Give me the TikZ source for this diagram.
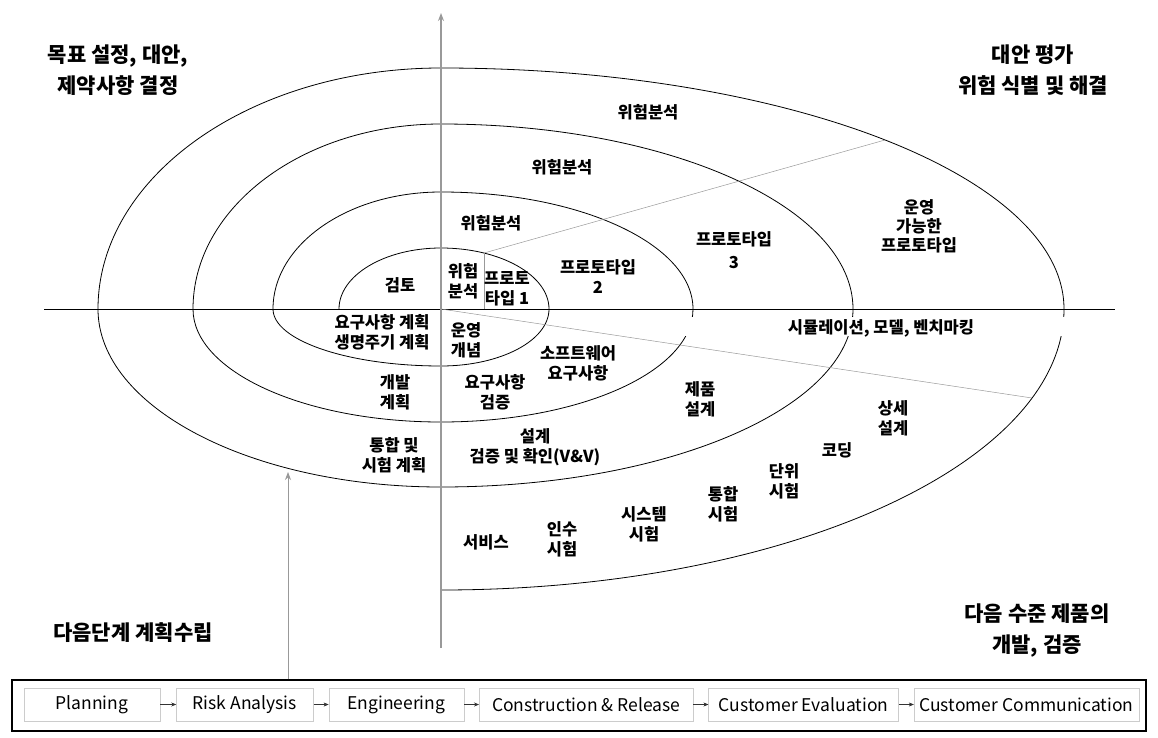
\documentclass[tikz,border=0pt]{standalone}
\usepackage{fontspec}
\setmainfont{Noto Sans CJK KR}
\usetikzlibrary{arrows.meta, positioning}

\begin{document}
\begin{tikzpicture}[
                x=1pt, y=-1pt,
                node distance=15pt,
                every node/.style={align=center, inner sep=1pt, font=\fontsize{16.5}{20}\selectfont\bfseries},
                title/.style={font=\fontsize{21}{31}\selectfont\bfseries},
                stage/.style={draw=gray!40, rectangle, minimum height=33pt, inner sep=0pt, font=\fontsize{17.5}{18}\selectfont},
                flow/.style={-{Stealth[length=5pt, width=4pt]}, black!80, thin},
                axis/.style={-{Stealth[length=8pt, width=6pt]}, gray!80, line width=1.2pt},
                spiral/.style={black, line width=0.8pt},
                guide/.style={gray!80, line width=0.5pt}]
            \useasboundingbox (0,0) rectangle (1158,738);

            % Axes
            \coordinate (o) at (441,309);
            \coordinate (ytop) at (441,13);
            \coordinate (ybot) at (441,648);
            \coordinate (xl) at (44,309);
            \coordinate (xr) at (1115,309);
            \draw[black, line width=0.8pt] (xl) -- (xr);

            % Spirale (quarts d'ellipse autour de o)
            \draw[spiral] (339,309)
                arc[start angle=180, end angle=90, x radius=102pt, y radius=61pt]
                arc[start angle=90, end angle=0, x radius=108pt, y radius=61pt]
                arc[start angle=0, end angle=-90, x radius=108pt, y radius=57pt]
                arc[start angle=-90, end angle=-180, x radius=168pt, y radius=57pt]
                arc[start angle=180, end angle=90, x radius=168pt, y radius=117pt]
                arc[start angle=90, end angle=0, x radius=252pt, y radius=117pt]
                arc[start angle=0, end angle=-90, x radius=252pt, y radius=113pt]
                arc[start angle=-90, end angle=-180, x radius=248pt, y radius=113pt]
                arc[start angle=180, end angle=90, x radius=248pt, y radius=185pt]
                arc[start angle=90, end angle=0, x radius=412pt, y radius=185pt]
                arc[start angle=0, end angle=-90, x radius=412pt, y radius=178pt]
                arc[start angle=-90, end angle=-180, x radius=343pt, y radius=178pt]
                arc[start angle=180, end angle=90, x radius=343pt, y radius=241pt]
                arc[start angle=90, end angle=0, x radius=623pt, y radius=241pt]
                arc[start angle=0, end angle=-90, x radius=623pt, y radius=281pt];
            \fill[white] (670,317) rectangle (1080,336);

            % Lignes de secteur
            \coordinate (p1) at (484,253);
            \coordinate (p2) at (885,140);
            \coordinate (q2) at (1032,398);
            \draw[guide] (p1) -- (p2);
            \draw[guide] (p1) -- (p1 |- o);
            \draw[guide] (o) -- (q2);
            \draw[axis] (ybot) -- (ytop);

            % Quadrants
            \node[title] (goal) at (118,70) {목표 설정, 대안,\\제약사항 결정};
            \node[title] (eval) at (1033,70) {대안 평가\\위험 식별 및 해결};
            \node[title] (dev) at (1037,631) {다음 수준 제품의\\개발, 검증};
            \node[title] (plan) at (133,633) {다음단계 계획수립};

            % Textes de la spirale
            \node (rev) at (400,285) {검토};
            \node (risk1) at (463,281) {위험\\분석};
            \node (proto1) at (507,289) {프로토\\타입 1};
            \node (risk2) at (491,223) {위험분석};
            \node (risk3) at (562,167) {위험분석};
            \node (risk4) at (648,112) {위험분석};
            \node (proto2) at (598,277) {프로토타입\\2};
            \node (proto3) at (734,250) {프로토타입\\[3pt]3};
            \node (proto4) at (919,226) {운영\\[-1pt]가능한\\[-1pt]프로토타입};
            \node (reqplan) at (382,332) {요구사항 계획\\생명주기 계획};
            \node (concept) at (466,340) {운영\\개념};
            \node (swreq) at (578,363) {소프트웨어\\요구사항};
            \node (devplan) at (395,392) {개발\\계획};
            \node (reqval) at (495,392) {요구사항\\검증};
            \node (pdesign) at (700,399) {제품\\설계};
            \node (itplan) at (394,455) {통합 및\\시험 계획};
            \node (vv) at (535,447) {설계\\검증 및 확인(V\&V)};
            \node (sim) at (881,328) {시뮬레이션, 모델, 벤치마킹};
            \node (ddesign) at (893,418) {상세\\설계};
            \node (code) at (837,450) {코딩};
            \node (unit) at (784,481) {단위\\시험};
            \node (integ) at (723,504) {통합\\시험};
            \node (system) at (644,524) {시스템\\시험};
            \node (accept) at (562,539) {인수\\시험};
            \node (service) at (486,542) {서비스};

            % Etapes
            \node[draw, line width=1.2pt, minimum width=1134pt, minimum height=51pt] (frame) at (579,705.5) {};
            \node[stage, minimum width=136pt] (splan) at (92,704.5) {Planning};
            \node[stage, minimum width=137pt, right=16pt of splan] (srisk) {Risk Analysis};
            \node[stage, minimum width=135pt, right=of srisk] (seng) {Engineering};
            \node[stage, minimum width=214pt, right=of seng] (scons) {Construction \& Release};
            \node[stage, minimum width=190pt, right=of scons] (seval) {Customer Evaluation};
            \node[stage, minimum width=225pt, right=of seval] (scomm) {Customer Communication};
            \draw[flow] (splan) -- (srisk);
            \draw[flow] (srisk) -- (seng);
            \draw[flow] (seng) -- (scons);
            \draw[flow] (scons) -- (seval);
            \draw[flow] (seval) -- (scomm);

            \coordinate (next) at (288,472);
            \draw[axis, line width=0.8pt] (frame.north -| next) -- (next);

        \end{tikzpicture}
\end{document}
